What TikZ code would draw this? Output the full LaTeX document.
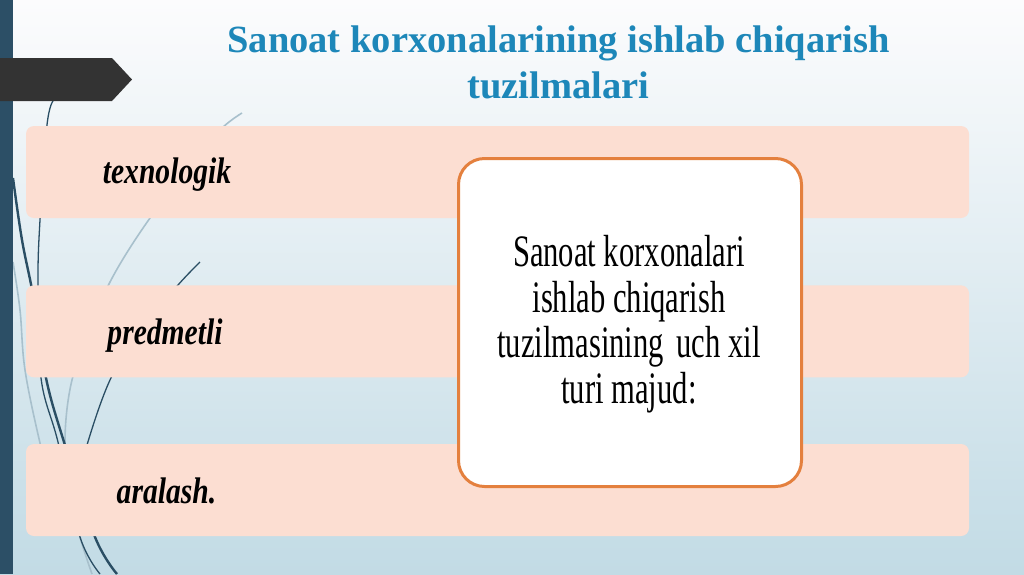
\documentclass[tikz,border=0pt]{standalone}
\usepackage{fontspec}
\setmainfont{Liberation Serif}
\newfontfamily\condfont{Liberation Serif}[FakeStretch=0.8]
\newfontfamily\midfont{Liberation Serif}[FakeStretch=0.68]
\definecolor{bgtop}{RGB}{252,252,253}
\definecolor{bgmid}{RGB}{228,238,243}
\definecolor{bgbot}{RGB}{194,219,229}
\definecolor{barcol}{RGB}{44,79,102}
\definecolor{arrowcol}{RGB}{51,51,51}
\definecolor{peach}{RGB}{252,222,210}
\definecolor{orangeline}{RGB}{228,128,62}
\definecolor{titleblue}{RGB}{29,135,185}
\definecolor{wispdark}{RGB}{42,78,100}
\definecolor{wisplight}{RGB}{168,192,204}
\begin{document}
\begin{tikzpicture}[x=1pt,y=-1pt,
  peachbox/.style={rectangle, fill=peach, rounded corners=8pt, minimum width=943pt, minimum height=92pt, inner sep=0pt},
  centerbox/.style={rectangle, fill=white, draw=orangeline, line width=3pt, rounded corners=26pt, minimum width=343pt, minimum height=328pt, inner sep=0pt},
  itemtext/.style={anchor=base, inner sep=0pt, font=\condfont\bfseries\itshape\fontsize{37}{40}\selectfont, text=black},
  midtext/.style={anchor=base, inner sep=0pt, font=\midfont\fontsize{45}{45.5}\selectfont, text=black},
  titletext/.style={anchor=base, inner sep=0pt, font=\bfseries\fontsize{38.5}{46}\selectfont, text=titleblue},
  darkwisp/.style={draw=wispdark, line width=1.3pt},
  thickwisp/.style={draw=wispdark, line width=2.4pt},
  lightwisp/.style={draw=wisplight, line width=1.6pt}]
\useasboundingbox (0,0) rectangle (1024,574);
% background
\shade[top color=bgtop, middle color=bgmid, bottom color=bgbot] (0,0) rectangle (1024,574);
% decorative wisps
\draw[lightwisp] plot[smooth, tension=0.6] coordinates {(242,113) (210,140) (150,218) (110,282) (92,330) (72,380) (65,442) (72,500) (80,537) (92,574)};
\draw[lightwisp] plot[smooth, tension=0.6] coordinates {(13,262) (20,310) (25,370) (40,443) (55,500)};
\draw[darkwisp] plot[smooth, tension=0.6] coordinates {(53,101) (47,125) (40,220) (38,285) (41,378) (58,442) (80,537) (100,574)};
\draw[thickwisp] plot[smooth, tension=0.6] coordinates {(13,178) (22,240) (34,300) (46,378) (64,442) (95,537) (117,574)};
\draw[darkwisp] plot[smooth, tension=0.6] coordinates {(200,262) (178,285) (140,330) (110,380) (87,445) (80,480)};
% left bar and arrow
\fill[barcol] (0,0) rectangle (13,574);
\fill[arrowcol] (0,58) -- (112,58) -- (132,79.5) -- (112,101) -- (0,101) -- cycle;
% title
\node[titletext] (title) at (558.5,52.7) {\begin{tabular}[t]{@{}c@{}}Sanoat korxonalarining ishlab chiqarish\\tuzilmalari\end{tabular}};
% peach boxes
\node[peachbox] (b1) at (497.5,172) {};
\node[peachbox] (b2) at (497.5,331.3) {};
\node[peachbox] (b3) at (497.5,490) {};
\node[itemtext] (t1) at (167,183.3) {texnologik};
\node[itemtext] (t2) at (165,344) {predmetli};
\node[itemtext] (t3) at (166.5,503) {aralash.};
% center box
\node[centerbox] (cb) at (630,322.5) {};
\node[midtext] (ct) at (629,266.7) {\begin{tabular}[t]{@{}c@{}}Sanoat korxonalari\\ishlab chiqarish\\tuzilmasining\hspace{5pt} uch xil\\turi majud:\end{tabular}};
\end{tikzpicture}
\end{document}
